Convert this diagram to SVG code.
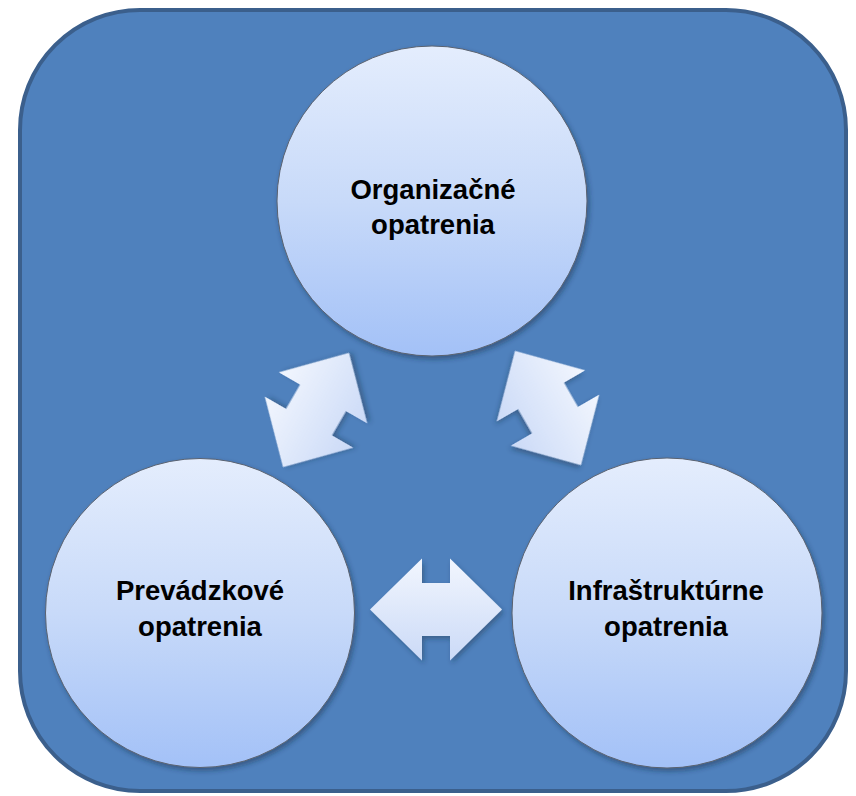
<svg xmlns="http://www.w3.org/2000/svg" width="856" height="796" viewBox="0 0 856 796">
  <style>
    .lbl { font-family: "Liberation Sans", Arial, sans-serif; font-weight: bold; font-size: 27.5px; fill: #000; text-anchor: middle; }
    .node circle { fill: url(#circGrad); stroke: #5a6270; stroke-width: 1; filter: url(#shadow); }
    .arrow { fill: url(#arrowGrad); filter: url(#ashadow); }
  </style>
  <defs>
    <linearGradient id="circGrad" x1="0" y1="0" x2="0" y2="1">
      <stop offset="0" stop-color="#e4edfd"/>
      <stop offset="0.5" stop-color="#c8daf9"/>
      <stop offset="1" stop-color="#a3c1f7"/>
    </linearGradient>
    <linearGradient id="arrowGrad" x1="0" y1="0" x2="0" y2="1" gradientUnits="objectBoundingBox">
      <stop offset="0" stop-color="#f2f6fe"/>
      <stop offset="1" stop-color="#cbdaf7"/>
    </linearGradient>
    <filter id="shadow" x="-10%" y="-10%" width="125%" height="125%">
      <feDropShadow dx="2" dy="3" stdDeviation="2.5" flood-color="#1c2d45" flood-opacity="0.45"/>
    </filter>
    <filter id="ashadow" x="-15%" y="-15%" width="135%" height="135%">
      <feDropShadow dx="2" dy="3" stdDeviation="2.5" flood-color="#1c2d45" flood-opacity="0.4"/>
    </filter>
    <path id="dblArrow" d="M-66,0 L-14,-51 L-14,-26.5 L14,-26.5 L14,-51 L66,0 L14,51 L14,26.5 L-14,26.5 L-14,51 Z"/>
  </defs>

  <g id="background">
    <rect x="20" y="10" width="826" height="781" rx="120" ry="120" fill="#4f81bd" stroke="#3b5f8c" stroke-width="4"/>
  </g>

  <g id="connectors">
    <g transform="translate(316,410) rotate(-60)"><use href="#dblArrow" class="arrow"/></g>
    <g transform="translate(548,408) rotate(60)"><use href="#dblArrow" class="arrow"/></g>
    <g transform="translate(436,609.5)"><use href="#dblArrow" class="arrow"/></g>
  </g>

  <g id="node-organizacne" class="node">
    <circle cx="432" cy="201" r="155"/>
    <text class="lbl" x="433" y="199">Organizačné</text>
    <text class="lbl" x="433" y="234">opatrenia</text>
  </g>

  <g id="node-prevadzkove" class="node">
    <circle cx="200" cy="613" r="154.5"/>
    <text class="lbl" x="200" y="600">Prevádzkové</text>
    <text class="lbl" x="200" y="636">opatrenia</text>
  </g>

  <g id="node-infrastrukturne" class="node">
    <circle cx="667" cy="613" r="155"/>
    <text class="lbl" x="666" y="600">Infraštruktúrne</text>
    <text class="lbl" x="666" y="636">opatrenia</text>
  </g>
</svg>
